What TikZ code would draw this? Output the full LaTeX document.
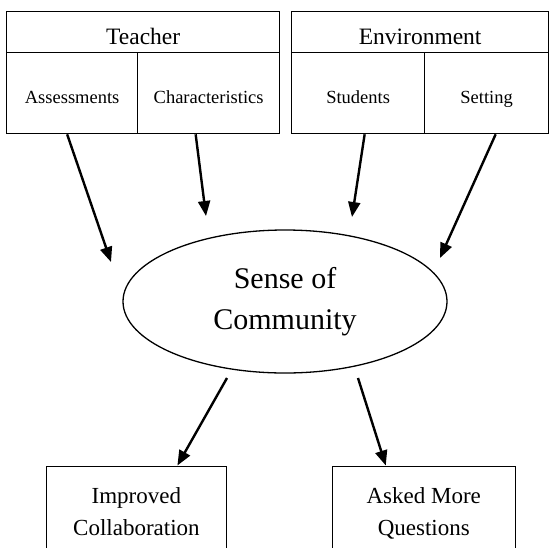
\documentclass[tikz,border=0pt]{standalone}
\usepackage{fontspec}
\setmainfont{Liberation Serif}
\usetikzlibrary{arrows.meta,calc,shapes.geometric}
\begin{document}
\begin{tikzpicture}[x=1pt,y=-1pt,
  cell/.style={draw, line width=1.3pt, inner sep=0pt, anchor=north west, align=center},
  head/.style={cell, font=\fontsize{23.5}{28}\selectfont, text height=30pt, text depth=4.5pt},
  sub/.style={cell, font=\fontsize{18.5}{22}\selectfont, text height=24pt, text depth=4pt},
  outbox/.style={cell, font=\fontsize{23}{32}\selectfont, text height=49pt, text depth=6pt},
  arr/.style={line width=2.4pt, -{Triangle[length=15pt,width=12pt]}}
]
\useasboundingbox (0,0) rectangle (549,547);
\clip (0,0) rectangle (549,547);

% Teacher group
\node[head, minimum width=273pt, minimum height=41.5pt] (teacher) at (6,10.5) {Teacher};
\node[sub, minimum width=131pt, minimum height=81pt] (assess) at (6,52) {Assessments};
\node[sub, minimum width=142pt, minimum height=81pt] (char) at (137,52) {Characteristics};

% Environment group
\node[head, minimum width=257pt, minimum height=41.5pt] (env) at (291,10.5) {Environment};
\node[sub, minimum width=133pt, minimum height=81pt] (stud) at (291,52) {Students};
\node[sub, minimum width=124pt, minimum height=81pt] (sett) at (424,52) {Setting};

% Central ellipse
\node[ellipse, draw, line width=1.3pt, inner sep=0pt, minimum width=324pt, minimum height=143pt,
      align=center, font=\fontsize{30}{41}\selectfont] (comm) at (285,301.5) {Sense of\\Community};

% Outcomes
\node[outbox, minimum width=180.5pt, minimum height=96pt] (impr) at (45.5,465.5) {Improved\\Collaboration};
\node[outbox, minimum width=183pt, minimum height=96pt] (asked) at (331.6,465.5) {Asked More\\Questions};

% Arrow end points near the ellipse
\coordinate (t1) at (111,262);
\coordinate (t2) at (206,216);
\coordinate (t3) at (352,217);
\coordinate (t4) at (440,258);
\coordinate (s1) at (227,378);
\coordinate (s2) at (358,378);

\draw[arr] ([xshift=-5pt]assess.south) -- (t1);
\draw[arr] ([xshift=-13pt]char.south) -- (t2);
\draw[arr] ([xshift=6.5pt]stud.south) -- (t3);
\draw[arr] ([xshift=9pt]sett.south) -- (t4);
\draw[arr] (s1) -- ([xshift=41pt]impr.north);
\draw[arr] (s2) -- ([xshift=-38pt]asked.north);
\end{tikzpicture}
\end{document}
